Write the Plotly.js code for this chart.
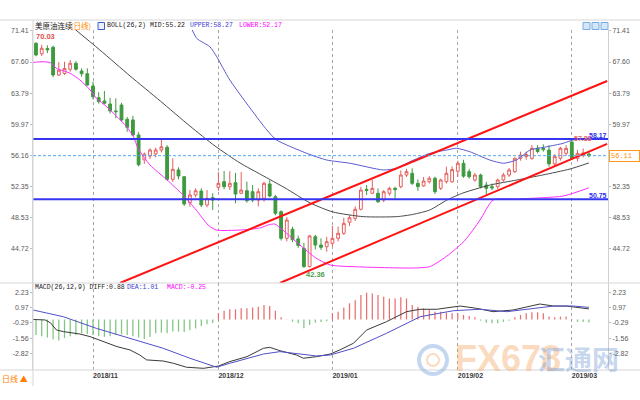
<!DOCTYPE html>
<html><head><meta charset="utf-8">
<script src="https://cdn.plot.ly/plotly-3.0.1.min.js"></script>
<style>html,body{margin:0;padding:0;background:#fff;}#chart{width:640px;height:400px;}</style>
</head><body><div id="chart"></div>
<script>
// ---------------- DATA ----------------
const monthTickIdx  = [10, 32, 52, 74, 94];
const monthTickText = ['2018/11', '2018/12', '2019/01', '2019/02', '2019/03'];

const priceOpen = [69.90,68.60,69.25,69.41,66.00,66.20,66.71,67.45,66.50,66.17,
  64.66,63.23,62.82,62.45,61.60,62.33,60.57,60.49,58.65,55.60,
  56.07,56.32,56.80,57.14,53.21,54.36,53.53,50.34,51.29,51.78,
  50.06,50.96,52.23,52.92,52.31,52.80,51.50,51.81,51.69,50.67,
  50.88,52.64,51.08,49.24,45.97,47.08,45.90,44.75,42.50,46.17,
  45.15,44.94,45.36,45.97,46.59,47.94,48.42,49.53,51.98,51.50,
  51.50,50.67,51.50,52.10,52.31,53.74,53.95,52.72,52.40,52.92,
  53.34,52.10,52.92,52.90,54.20,55.18,54.15,53.13,53.74,52.51,
  52.30,52.31,53.13,53.74,54.15,55.79,56.00,55.79,57.02,57.00,
  56.80,55.10,55.79,56.40,57.80,55.79,56.20,56.30];
const priceHigh = [70.03,69.70,69.65,69.60,67.57,67.64,67.85,67.70,66.83,66.83,
  65.20,63.90,64.05,63.20,63.15,62.60,60.86,61.00,59.00,56.50,
  57.00,57.10,58.04,57.40,55.79,54.68,53.60,51.90,52.10,52.10,
  51.90,51.50,54.10,54.23,54.20,54.00,54.10,52.92,52.50,52.10,
  52.92,53.10,51.30,49.40,48.60,47.40,46.30,45.40,46.40,46.40,
  45.97,46.17,47.50,47.40,48.50,48.80,49.90,52.31,52.52,53.13,
  52.10,51.90,52.30,52.31,54.30,54.50,54.56,53.20,53.50,53.60,
  53.53,53.30,54.76,54.80,55.50,55.60,54.50,54.00,53.90,52.90,
  52.70,53.30,54.00,54.60,55.90,56.60,56.60,57.40,57.40,57.50,
  57.40,56.30,57.20,57.40,57.88,56.80,57.00,56.60];
const priceLow = [68.30,68.35,68.70,65.73,65.90,66.00,66.40,66.55,65.80,64.70,
  63.00,62.50,62.40,61.30,60.70,60.30,59.05,58.50,54.80,55.10,
  55.70,55.90,56.50,53.00,52.90,53.21,49.94,49.85,51.00,49.80,
  49.78,49.45,51.80,51.99,51.90,50.27,51.40,50.34,50.40,49.90,
  50.47,51.00,48.80,45.70,45.60,45.50,44.80,42.36,42.40,44.60,
  44.54,44.33,44.94,45.60,46.38,47.50,48.10,49.40,51.29,51.40,
  50.30,50.40,51.20,50.88,52.10,53.50,52.50,51.80,52.30,52.70,
  51.41,51.90,52.70,52.80,53.50,53.40,53.30,52.90,52.10,51.30,
  51.90,52.00,52.90,53.50,54.00,55.50,55.60,55.60,56.40,56.60,
  54.76,54.80,55.50,56.10,55.60,55.40,55.90,55.90];
const priceClose = [68.47,69.29,69.10,66.01,66.60,66.80,67.45,66.71,66.17,64.78,
  63.35,62.74,62.54,61.60,61.51,60.49,59.59,58.65,55.00,56.30,
  56.81,56.81,57.20,53.21,54.44,53.62,50.18,51.29,51.81,50.06,
  50.88,50.67,52.72,52.31,52.72,51.41,51.90,50.59,50.67,51.69,
  52.72,51.16,49.04,45.97,48.22,45.80,45.10,42.50,46.26,45.15,
  44.87,45.56,45.97,46.59,47.81,48.50,49.53,51.90,51.85,52.10,
  50.47,51.69,52.10,51.95,53.74,54.15,52.72,52.31,53.00,53.34,
  51.69,53.13,53.95,54.40,55.18,53.60,53.53,53.74,52.31,52.10,
  52.15,53.13,53.74,54.36,55.79,56.19,56.25,57.02,56.62,56.85,
  55.10,56.00,57.02,57.00,55.79,56.40,56.45,56.11];

// BOLL(26,2) lines, read as (bar position, value) pairs
const bollMidX = [6.0, 11.2, 16.5, 21.8, 27.0, 31.4, 35.8, 39.6, 43.7, 48.1, 52.1, 57.4, 63.3, 66.1, 69.1, 72.1, 74.9, 79.6, 84.4, 88.9, 93.7, 97.0];
const bollMidY = [72.10, 69.08, 65.89, 62.82, 59.75, 57.30, 55.21, 53.74, 52.15, 50.31, 49.20, 48.63, 48.63, 48.90, 49.45, 50.67, 51.53, 52.50, 53.13, 53.74, 54.48, 55.22];
const bollUpX = [27.0, 28.2, 30.5, 31.7, 34.0, 40.5, 42.2, 47.5, 51.0, 55.1, 60.9, 63.3, 65.6, 69.1, 72.1, 73.8, 76.1, 79.6, 82.0, 84.3, 86.7, 89.6, 92.5, 94.2, 97.0];
const bollUpY = [72.20, 70.50, 69.48, 68.26, 65.40, 59.26, 58.04, 56.40, 55.58, 55.18, 54.36, 54.56, 55.37, 56.40, 56.81, 57.02, 56.60, 55.58, 55.18, 55.58, 56.81, 57.20, 57.63, 58.04, 58.27];
const bollLowX = [-0.6, 1.3, 2.5, 3.6, 6.0, 7.7, 9.5, 10.6, 12.4, 14.2, 15.9, 17.1, 17.9, 20.0, 23.0, 25.8, 28.1, 30.2, 31.6, 35.8, 39.3, 40.7, 41.9, 43.3, 46.3, 49.1, 51.6, 57.4, 66.1, 69.1, 72.3, 75.3, 77.9, 80.2, 84.4, 92.5, 97.0];
const bollLowY = [67.55, 67.64, 67.52, 66.83, 66.22, 65.40, 64.17, 63.15, 62.12, 60.90, 59.67, 58.44, 57.02, 54.97, 53.13, 51.29, 49.45, 47.60, 46.99, 46.99, 47.24, 47.60, 47.73, 46.99, 45.15, 43.56, 42.70, 42.45, 42.33, 42.50, 43.90, 45.76, 48.22, 50.67, 50.80, 51.16, 52.17];

// Hand-drawn channel (two red trend lines) and horizontal levels
const channelUpX = [14.74, 100.2], channelUpY = [40.49, 65.27];
const channelLoX = [42.8, 100.2],  channelLoY = [40.49, 57.55];
const levelLines = [58.17, 50.75];
const lastPrice = 56.11;

// Header values
const bollMid = 55.22, bollUpper = 58.27, bollLower = 52.17;
const macdDiff = 0.88, macdDea = 1.01, macdValue = -0.25;

// MACD(26,12,9)
const macdHist = [-1.30,-1.40,-1.50,-1.65,-1.75,-1.55,-1.40,-1.30,-1.15,-1.20,
  -1.30,-1.40,-1.45,-1.40,-1.30,-1.25,-1.30,-1.40,-1.50,-1.62,
  -1.45,-1.15,-1.10,-1.15,-1.00,-1.00,-1.05,-0.90,-0.75,-0.55,
  -0.40,-0.30,0.52,0.73,0.85,0.85,0.93,0.93,1.00,1.07,
  1.20,1.12,0.73,0.18,0.02,-0.19,-0.32,-0.74,-0.46,-0.28,
  -0.20,-0.15,0.52,0.65,1.00,1.35,1.60,2.03,2.23,2.17,
  2.03,1.90,1.75,1.75,1.85,1.75,1.20,1.07,0.93,0.79,
  0.65,0.65,0.57,0.52,0.52,0.38,0.30,0.18,-0.10,-0.28,
  -0.32,-0.32,-0.20,-0.10,0.18,0.38,0.52,0.60,0.60,0.52,
  0.24,0.18,0.24,0.24,0.05,-0.20,-0.20,-0.25];
const diffX = [-0.5, 1.6, 2.5, 3.6, 4.8, 7.7, 9.5, 11.8, 14.2, 16.5, 18.2, 19.4, 22.3, 24.1, 26.4, 29.4, 32.0, 34.0, 37.0, 39.9, 41.0, 42.8, 45.7, 46.9, 49.2, 51.6, 53.3, 55.7, 58.0, 61.5, 65.0, 67.4, 70.3, 74.4, 77.3, 80.2, 83.7, 88.4, 90.8, 93.1, 95.4, 97.0];
const diffY = [0.00, -0.04, -0.26, -0.88, -1.01, -1.21, -1.43, -1.85, -2.26, -2.54, -2.96, -3.37, -3.46, -3.65, -3.98, -4.07, -3.88, -3.51, -3.10, -2.40, -2.32, -2.60, -2.96, -3.23, -3.10, -2.88, -2.54, -1.98, -0.88, -0.18, 0.65, 0.85, 0.85, 1.12, 0.93, 0.65, 0.79, 1.29, 1.12, 1.12, 1.01, 0.88];
const deaX = [-0.5, 4.8, 10.6, 16.5, 22.3, 27.0, 30.5, 31.7, 34.0, 39.9, 42.8, 45.7, 49.2, 51.6, 55.7, 61.5, 67.4, 73.2, 77.9, 82.6, 87.3, 90.8, 94.3, 97.0];
const deaY = [0.79, 0.23, -0.74, -1.57, -2.40, -3.23, -3.79, -3.98, -3.65, -2.88, -2.68, -2.82, -3.04, -2.96, -2.40, -1.15, 0.23, 0.73, 0.85, 0.65, 0.93, 1.12, 1.12, 1.01];

const priceTicks = [71.41, 67.60, 63.79, 59.97, 56.16, 52.35, 48.53, 44.72];
const macdTicks  = [2.23, 0.97, -0.29, -1.56, -2.82];

// ---------------- LAYOUT HELPERS ----------------
const ML = 33, MR = 32, MT = 20, MB = 30, W = 640, H = 400;
const PW = W - ML - MR, PH = H - MT - MB;
const px = v => (v - ML) / PW;
const py = v => (H - MB - v) / PH;

const priceRange = [40.49, 71.53];
const macdRange = [-4.21, 3.04];
const xRange = [-0.526, 100.35];

const MONO = 'Liberation Mono, DejaVu Sans Mono, Noto Sans CJK SC, monospace';
const SANS = 'Liberation Sans, Arial, sans-serif';
const CJK = 'Noto Sans CJK SC, DejaVu Sans, sans-serif';

const idx = priceOpen.map((_, i) => i);
let maxI = 0, minI = 0, recentMaxI = 80;
priceHigh.forEach((v, i) => { if (v > priceHigh[maxI]) maxI = i; if (i >= 80 && v > priceHigh[recentMaxI]) recentMaxI = i; });
priceLow.forEach((v, i) => { if (v < priceLow[minI]) minI = i; });

// ---------------- TRACES ----------------
const traces = [
  { type: 'scatter', mode: 'lines', x: bollMidX, y: bollMidY, xaxis: 'x', yaxis: 'y',
    line: { color: '#4a4a4a', width: 1, shape: 'spline', smoothing: 0.6 }, hoverinfo: 'skip' },
  { type: 'scatter', mode: 'lines', x: bollUpX, y: bollUpY, xaxis: 'x', yaxis: 'y',
    line: { color: '#5b5bd2', width: 1, shape: 'spline', smoothing: 0.6 }, hoverinfo: 'skip' },
  { type: 'scatter', mode: 'lines', x: bollLowX, y: bollLowY, xaxis: 'x', yaxis: 'y',
    line: { color: '#ff2cff', width: 1, shape: 'spline', smoothing: 0.6 }, hoverinfo: 'skip' },
  { type: 'candlestick', x: idx, open: priceOpen, high: priceHigh, low: priceLow, close: priceClose,
    xaxis: 'x', yaxis: 'y', whiskerwidth: 0,
    increasing: { line: { color: '#e45f5d', width: 1 }, fillcolor: '#ffffff' },
    decreasing: { line: { color: '#3e9a3e', width: 1 }, fillcolor: '#3e9a3e' },
    hoverinfo: 'skip' },
  { type: 'scatter', mode: 'lines', x: channelUpX, y: channelUpY, xaxis: 'x', yaxis: 'y',
    line: { color: '#ff1212', width: 2 }, hoverinfo: 'skip' },
  { type: 'scatter', mode: 'lines', x: channelLoX, y: channelLoY, xaxis: 'x', yaxis: 'y',
    line: { color: '#ff1212', width: 2 }, hoverinfo: 'skip' },
  { type: 'bar', x: idx, y: macdHist, xaxis: 'x', yaxis: 'y2', width: 0.22,
    marker: { color: macdHist.map(v => v >= 0 ? '#e96f6f' : '#80c580'), line: { width: 0 } }, hoverinfo: 'skip' },
  { type: 'scatter', mode: 'lines', x: diffX, y: diffY, xaxis: 'x', yaxis: 'y2',
    line: { color: '#3a3a3a', width: 1 }, hoverinfo: 'skip' },
  { type: 'scatter', mode: 'lines', x: deaX, y: deaY, xaxis: 'x', yaxis: 'y2',
    line: { color: '#5050c8', width: 1 }, hoverinfo: 'skip' },
  { type: 'scatter', mode: 'lines', x: [null], y: [null], xaxis: 'x', yaxis: 'y3', hoverinfo: 'skip' },
  { type: 'scatter', mode: 'lines', x: [null], y: [null], xaxis: 'x', yaxis: 'y4', hoverinfo: 'skip' }
];

// ---------------- SHAPES ----------------
const border = '#d6d6d6';
const shapes = [];
levelLines.forEach(v => shapes.push({ type: 'line', xref: 'paper', yref: 'y', x0: 0, x1: 1, y0: v, y1: v,
  line: { color: '#3636f2', width: 2 } }));
shapes.push({ type: 'line', xref: 'paper', yref: 'y', x0: 0, x1: 1, y0: lastPrice, y1: lastPrice,
  line: { color: '#55a6f0', width: 1, dash: '3px,2px' } });
[20, 283, 370].forEach(yy => shapes.push({ type: 'line', xref: 'paper', yref: 'paper',
  x0: px(0), x1: px(640), y0: py(yy), y1: py(yy), line: { color: border, width: 1 } }));
shapes.push({ type: 'line', xref: 'paper', yref: 'paper', x0: 0, x1: 0, y0: py(20), y1: py(386), line: { color: border, width: 1 } });
for (let k = 0; k < 3; k++) {
  shapes.push({ type: 'rect', xref: 'paper', yref: 'paper', x0: px(583 + 9 * k), x1: px(590 + 9 * k),
    y0: py(29.5), y1: py(22.5), fillcolor: '#d4e7fa', line: { color: '#78ace0', width: 1 } });
}
shapes.push({ type: 'rect', xref: 'paper', yref: 'paper', x0: px(98), x1: px(104.5), y0: py(29.5), y1: py(22.5),
  fillcolor: '#eef0ff', line: { color: '#3a5fcd', width: 1 } });
shapes.push({ type: 'circle', xref: 'paper', yref: 'paper', x0: px(419), x1: px(447), y0: py(374), y1: py(346),
  line: { color: 'rgba(150,182,228,0.55)', width: 4 } });
shapes.push({ type: 'circle', xref: 'paper', yref: 'paper', x0: px(427), x1: px(439), y0: py(366), y1: py(354),
  line: { color: 'rgba(248,185,135,0.55)', width: 2 } });

// ---------------- ANNOTATIONS ----------------
function lab(text, xPx, yPx, color, size, family, extra) {
  return Object.assign({ xref: 'paper', yref: 'paper', x: px(xPx), y: py(yPx), xanchor: 'left', yanchor: 'middle',
    text: text, showarrow: false, borderpad: 0, font: { color: color, size: size, family: family } }, extra || {});
}
const annotations = [
  lab('美原油连续', 34, 26, '#222', 7.5, CJK),
  lab('(日线)', 70, 26, '#ff8a00', 7.5, CJK),
  lab('BOLL(26,2) MID:' + bollMid.toFixed(2), 106, 26, '#222', 6.5, MONO),
  lab('UPPER:' + bollUpper.toFixed(2), 189, 26, '#3b3bd0', 6.5, MONO),
  lab('LOWER:' + bollLower.toFixed(2), 238, 26, '#ff00ff', 6.5, MONO),
  lab('MACD(26,12,9) DIFF:' + macdDiff.toFixed(2), 34, 287, '#222', 6.5, MONO),
  lab('DEA:' + macdDea.toFixed(2), 126, 287, '#3b3bd0', 6.5, MONO),
  lab('MACD:' + macdValue.toFixed(2), 166, 287, '#ff00ff', 6.5, MONO),
  lab('日线 ▲', 1, 378, '#ff8000', 8, CJK),
  lab('FX678', 454, 358, 'rgba(247,168,98,0.42)', 36, 'Liberation Sans Narrow, Liberation Sans, sans-serif', {}),
  lab('汇通网', 537, 358, 'rgba(110,150,212,0.38)', 27, CJK, {})
];
annotations[9].font.weight = 'bold';
annotations[10].font.weight = 'bold';

annotations.push({ xref: 'x', yref: 'y', x: maxI, y: priceHigh[maxI], text: priceHigh[maxI].toFixed(2),
  xanchor: 'left', yanchor: 'bottom', xshift: -1, yshift: 0, showarrow: false, borderpad: 0,
  font: { color: '#e0504f', size: 7.5, family: SANS, weight: 'bold' } });
annotations.push({ xref: 'x', yref: 'y', x: recentMaxI, y: priceHigh[recentMaxI], text: priceHigh[recentMaxI].toFixed(2),
  xanchor: 'left', yanchor: 'bottom', xshift: 1, yshift: -2, showarrow: false, borderpad: 0,
  font: { color: '#e86a6a', size: 7, family: SANS, weight: 'bold' } });
annotations.push({ xref: 'x', yref: 'y', x: minI, y: priceLow[minI], text: priceLow[minI].toFixed(2),
  xanchor: 'left', yanchor: 'top', xshift: 1, yshift: -1, showarrow: false, borderpad: 0,
  font: { color: '#4f9f4f', size: 7.5, family: SANS, weight: 'bold' } });
levelLines.forEach(v => annotations.push({ xref: 'paper', yref: 'y', x: px(607.5), y: v, text: v.toFixed(2),
  xanchor: 'right', yanchor: 'bottom', yshift: -1, showarrow: false, borderpad: 0,
  font: { color: '#2f2ff0', size: 7, family: SANS, weight: 'bold' } }));
annotations.push({ xref: 'paper', yref: 'y', x: 1, y: lastPrice, text: lastPrice.toFixed(2),
  xanchor: 'left', yanchor: 'middle', xshift: 1, showarrow: false, borderpad: 1, borderwidth: 1,
  bordercolor: '#ff9a1a', bgcolor: '#ffffff', width: 27, align: 'left',
  font: { color: '#ff8c00', size: 7, family: MONO } });

// ---------------- AXES ----------------
const yTickCommon = { tickmode: 'array', ticks: 'outside', ticklen: 2, tickcolor: '#bbbbbb',
  showgrid: false, zeroline: false, showline: true, linecolor: '#d0d0d0', linewidth: 1, fixedrange: true,
  tickfont: { family: SANS, size: 7, color: '#5a5a5a' } };

const layout = {
  width: W, height: H,
  margin: { l: ML, r: MR, t: MT, b: MB, pad: 0 },
  paper_bgcolor: '#ffffff', plot_bgcolor: '#ffffff',
  showlegend: false, hovermode: false, dragmode: false,
  xaxis: { domain: [0, 1], range: xRange, anchor: 'y2', tickmode: 'array', tickvals: monthTickIdx, ticktext: monthTickText,
    ticklabelposition: 'outside right', ticks: '', showgrid: true, gridcolor: '#a6a6a6', griddash: 'dot', gridwidth: 1,
    zeroline: false, showline: false, fixedrange: true, rangeslider: { visible: false },
    tickfont: { family: SANS, size: 7, color: '#3a3a3a', weight: 'bold' } },
  yaxis: Object.assign({}, yTickCommon, { domain: [py(283), py(30)], range: priceRange, anchor: 'x', side: 'left',
    tickvals: priceTicks, ticktext: priceTicks.map(v => v.toFixed(2)) }),
  yaxis2: Object.assign({}, yTickCommon, { domain: [0, py(283)], range: macdRange, anchor: 'x', side: 'left',
    tickvals: macdTicks, ticktext: macdTicks.map(v => v.toFixed(2)) }),
  yaxis3: Object.assign({}, yTickCommon, { overlaying: 'y', side: 'right', anchor: 'x', range: priceRange,
    tickvals: priceTicks, ticktext: priceTicks.map(v => v.toFixed(2)) }),
  yaxis4: Object.assign({}, yTickCommon, { overlaying: 'y2', side: 'right', anchor: 'x', range: macdRange,
    tickvals: macdTicks, ticktext: macdTicks.map(v => v.toFixed(2)) }),
  shapes: shapes,
  annotations: annotations
};

Plotly.newPlot('chart', traces, layout, { staticPlot: true, displayModeBar: false });
</script></body></html>
